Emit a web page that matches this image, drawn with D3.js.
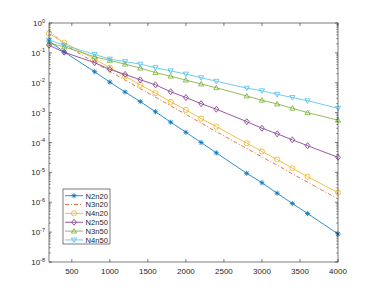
<!DOCTYPE html>
<html>
<head>
<meta charset="utf-8">
<script src="https://cdn.jsdelivr.net/npm/d3@7"></script>
<style>
  body { margin: 0; background: #fff; }
  text { font-family: "Liberation Sans", Arial, sans-serif; fill: #262626; }
</style>
</head>
<body>
<div id="chart"></div>
<script>
// --- Data ---
const xs = [200, 400, 800, 1000, 1200, 1400, 1600, 1800, 2000, 2200, 2400, 2800, 3000, 3200, 3400, 3600, 4000];

const N2n20 = [0.25, 0.107, 0.0234, 0.0105, 0.0049, 0.00234, 0.00107, 4.8e-4, 2.2e-4, 1.0e-4, 4.5e-5, 9.3e-6, 4.5e-6, 2.0e-6, 9.1e-7, 4.2e-7, 8.7e-8];
const N3n20 = [0.58, 0.19, 0.048, 0.024, 0.0123, 0.0063, 0.0033, 0.0017, 8.7e-4, 4.5e-4, 2.3e-4, 6.3e-5, 3.3e-5, 1.74e-5, 8.9e-6, 4.7e-6, 1.29e-6];
const N4n20 = [0.45, 0.22, 0.062, 0.032, 0.0166, 0.0085, 0.0045, 0.0023, 0.00123, 6.3e-4, 3.4e-4, 9.5e-5, 5.0e-5, 2.7e-5, 1.38e-5, 7.2e-6, 2.1e-6];
const N2n50 = [0.18, 0.105, 0.047, 0.028, 0.019, 0.0126, 0.0085, 0.005, 0.0032, 0.002, 0.0013, 5.0e-4, 3.0e-4, 1.95e-4, 1.23e-4, 7.8e-5, 3.2e-5];
const N3n50 = [0.21, 0.16, 0.074, 0.056, 0.042, 0.031, 0.022, 0.0166, 0.0123, 0.0091, 0.0068, 0.0036, 0.0026, 0.00195, 0.0014, 0.001, 5.6e-4];
const N4n50 = [0.27, 0.18, 0.089, 0.062, 0.051, 0.042, 0.032, 0.025, 0.0195, 0.0148, 0.0112, 0.0066, 0.0054, 0.0041, 0.0032, 0.0025, 0.0014];

const xTicks = [500, 1000, 1500, 2000, 2500, 3000, 3500, 4000];
const yExps = [0, -1, -2, -3, -4, -5, -6, -7, -8];

const series = [
  { name: "N2n20", values: N2n20, color: "#0072BD", marker: "star", dash: null },
  { name: "N3n20", values: N3n20, color: "#D95319", marker: null, dash: "4,2,1,2" },
  { name: "N4n20", values: N4n20, color: "#EDB120", marker: "circle", dash: null },
  { name: "N2n50", values: N2n50, color: "#7E2F8E", marker: "diamond", dash: null },
  { name: "N3n50", values: N3n50, color: "#77AC30", marker: "up", dash: null },
  { name: "N4n50", values: N4n50, color: "#4DBEEE", marker: "down", dash: null }
];

// --- Layout ---
const W = 374, H = 295;
const margin = { left: 49, right: 338, top: 23, bottom: 262 };
const axisColor = "#262626";

const svg = d3.select("#chart").append("svg")
  .attr("width", W)
  .attr("height", H);

const x = d3.scaleLinear().domain([200, 4000]).range([margin.left, margin.right]);
const y = d3.scaleLog().domain([1e-8, 1]).range([margin.bottom, margin.top]);

// markers
function drawMarker(g, type, cx, cy, color) {
  const r = 2.6;
  if (type === "star") {
    const p = d3.path();
    p.moveTo(cx - r, cy); p.lineTo(cx + r, cy);
    p.moveTo(cx, cy - r); p.lineTo(cx, cy + r);
    const d = r * 0.72;
    p.moveTo(cx - d, cy - d); p.lineTo(cx + d, cy + d);
    p.moveTo(cx - d, cy + d); p.lineTo(cx + d, cy - d);
    g.append("path").attr("d", p.toString()).attr("stroke", color).attr("stroke-width", 0.8).attr("fill", "none");
  } else if (type === "circle") {
    g.append("circle").attr("cx", cx).attr("cy", cy).attr("r", r)
      .attr("stroke", color).attr("stroke-width", 0.8).attr("fill", "none");
  } else if (type === "diamond") {
    const s = r * 1.15;
    g.append("path").attr("d", `M${cx},${cy - s}L${cx + s * 0.8},${cy}L${cx},${cy + s}L${cx - s * 0.8},${cy}Z`)
      .attr("stroke", color).attr("stroke-width", 0.8).attr("fill", "none");
  } else if (type === "up") {
    g.append("path").attr("d", `M${cx},${cy - r}L${cx + r},${cy + r * 0.75}L${cx - r},${cy + r * 0.75}Z`)
      .attr("stroke", color).attr("stroke-width", 0.8).attr("fill", "none");
  } else if (type === "down") {
    g.append("path").attr("d", `M${cx},${cy + r}L${cx + r},${cy - r * 0.75}L${cx - r},${cy - r * 0.75}Z`)
      .attr("stroke", color).attr("stroke-width", 0.8).attr("fill", "none");
  }
}

// --- Series ---
const plot = svg.append("g");
const line = d3.line().x((d, i) => x(xs[i])).y(d => y(d));

series.forEach(s => {
  plot.append("path")
    .datum(s.values)
    .attr("d", line)
    .attr("fill", "none")
    .attr("stroke", s.color)
    .attr("stroke-width", 0.8)
    .attr("stroke-dasharray", s.dash);
  if (s.marker) {
    s.values.forEach((v, i) => drawMarker(plot, s.marker, x(xs[i]), y(v), s.color));
  }
});

// --- Axes box ---
const axes = svg.append("g").attr("stroke", axisColor).attr("stroke-width", 0.6).attr("fill", "none");
axes.append("rect")
  .attr("x", margin.left).attr("y", margin.top)
  .attr("width", margin.right - margin.left).attr("height", margin.bottom - margin.top);

// x ticks (inward, bottom and top)
xTicks.forEach(t => {
  const px = x(t);
  axes.append("line").attr("x1", px).attr("x2", px).attr("y1", margin.bottom).attr("y2", margin.bottom - 3);
  axes.append("line").attr("x1", px).attr("x2", px).attr("y1", margin.top).attr("y2", margin.top + 3);
  svg.append("text")
    .attr("x", px).attr("y", margin.bottom + 12)
    .attr("text-anchor", "middle")
    .attr("font-size", "8px")
    .text(t);
});

// y ticks (major + minor, inward, left and right)
yExps.forEach(e => {
  const py = y(Math.pow(10, e));
  axes.append("line").attr("x1", margin.left).attr("x2", margin.left + 3).attr("y1", py).attr("y2", py);
  axes.append("line").attr("x1", margin.right).attr("x2", margin.right - 3).attr("y1", py).attr("y2", py);
  const lab = svg.append("text")
    .attr("x", 45).attr("y", py + 3)
    .attr("text-anchor", "end")
    .attr("font-size", "8px");
  lab.append("tspan").text("10");
  lab.append("tspan").attr("dy", -3.5).attr("font-size", "5.5px").text(e);
  if (e > -8) {
    for (let m = 2; m <= 9; m++) {
      const my = y(m * Math.pow(10, e - 1));
      axes.append("line").attr("x1", margin.left).attr("x2", margin.left + 1.6).attr("y1", my).attr("y2", my);
      axes.append("line").attr("x1", margin.right).attr("x2", margin.right - 1.6).attr("y1", my).attr("y2", my);
    }
  }
});

// --- Legend ---
const lg = svg.append("g").attr("transform", "translate(63,189)");
lg.append("rect")
  .attr("width", 47).attr("height", 55)
  .attr("fill", "#fff")
  .attr("stroke", axisColor)
  .attr("stroke-width", 0.6);

series.forEach((s, i) => {
  const ry = 6.7 + i * 8.85;
  lg.append("line")
    .attr("x1", 2).attr("x2", 20).attr("y1", ry).attr("y2", ry)
    .attr("stroke", s.color).attr("stroke-width", 0.8)
    .attr("stroke-dasharray", s.dash);
  if (s.marker) drawMarker(lg, s.marker, 11, ry, s.color);
  lg.append("text")
    .attr("x", 22.5).attr("y", ry + 2.8)
    .attr("font-size", "7.6px")
    .text(s.name);
});
</script>
</body>
</html>
